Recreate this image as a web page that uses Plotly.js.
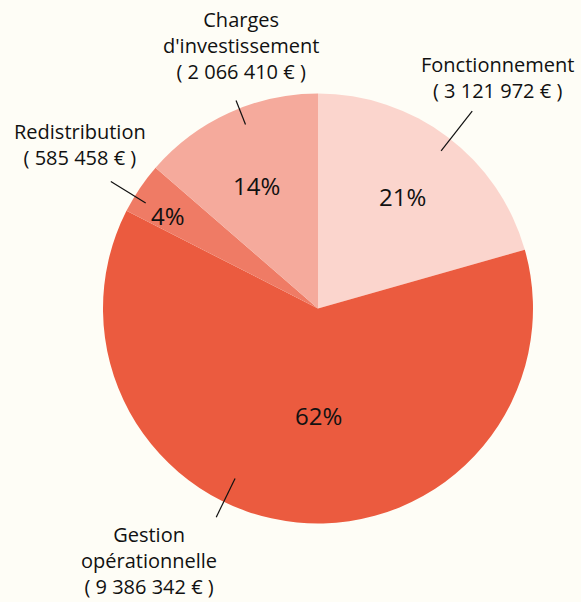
<!DOCTYPE html>
<html>
<head>
<meta charset="utf-8">
<script src="https://cdn.plot.ly/plotly-3.0.1.min.js"></script>
<style>html,body{margin:0;padding:0;background:#fefdf6;}</style>
</head>
<body>
<div id="chart" style="width:581px;height:602px;"></div>
<script>
// ---- data ----
const categories = ["Fonctionnement", "Gestion opérationnelle", "Redistribution", "Charges d'investissement"];
const labelLines = [["Fonctionnement"], ["Gestion", "opérationnelle"], ["Redistribution"], ["Charges", "d'investissement"]];
const amounts = [3121972, 9386342, 585458, 2066410];
const amountLabels = ["3 121 972 €", "9 386 342 €", "585 458 €", "2 066 410 €"];

// ---- style / placement ----
const colors = ["#fbd5cd", "#eb5b3f", "#ef7b65", "#f5aa9c"];
const W = 581, H = 602;
const cx = 318, cy = 308.5, R = 215;
const pctRadius = [0.65, 0.5, 0.82, 0.64];
const pctAngleShift = [0, -5.6, -2, -2];
const leaderAngle = [38, 206, 301.5, 338.5];
const leaderR = [[0.93, 1.165], [0.88, 1.08], [0.94, 1.13], [0.92, 1.04]];
const labelPos = [[497, 77], [149, 560], [80, 144], [241, 46]];
const fontFam = "'Open Sans', Lato, sans-serif";

const total = amounts.reduce((a, b) => a + b, 0);
const px = x => x / W, py = y => 1 - y / H;
const pt = (deg, r) => {
  const t = deg * Math.PI / 180;
  return [cx + r * R * Math.sin(t), cy - r * R * Math.cos(t)];
};

const annotations = [];
const shapes = [];
let cum = 0;
amounts.forEach((v, i) => {
  const start = cum / total * 360;
  cum += v;
  const end = cum / total * 360;
  const mid = (start + end) / 2 + pctAngleShift[i];
  const [x, y] = pt(mid, pctRadius[i]);
  annotations.push({
    x: px(x), y: py(y), xref: "paper", yref: "paper", showarrow: false,
    xanchor: "center", yanchor: "middle",
    text: Math.round(v / total * 100) + "%",
    font: {family: fontFam, size: 24, color: "#111"}
  });
  const lines = labelLines[i].concat(["( " + amountLabels[i] + " )"]);
  annotations.push({
    x: px(labelPos[i][0]), y: py(labelPos[i][1]), xref: "paper", yref: "paper", showarrow: false,
    xanchor: "center", yanchor: "middle",
    text: lines.join("<br>"), align: "center",
    font: {family: fontFam, size: 20, color: "#111"}
  });
  const [x0, y0] = pt(leaderAngle[i], leaderR[i][0]);
  const [x1, y1] = pt(leaderAngle[i], leaderR[i][1]);
  shapes.push({type: "line", xref: "paper", yref: "paper",
    x0: px(x0), y0: py(y0), x1: px(x1), y1: py(y1),
    line: {color: "#111", width: 1.2}});
});

const trace = {
  type: "pie",
  labels: categories,
  values: amounts,
  sort: false,
  direction: "clockwise",
  rotation: 0,
  textinfo: "none",
  hoverinfo: "label+value+percent",
  marker: {colors: colors, line: {width: 0}},
  domain: {x: [px(cx - R), px(cx + R)], y: [py(cy + R), py(cy - R)]},
  showlegend: false
};

const layout = {
  width: W, height: H,
  margin: {l: 0, r: 0, t: 0, b: 0},
  paper_bgcolor: "#fefdf6",
  plot_bgcolor: "#fefdf6",
  showlegend: false,
  annotations: annotations,
  shapes: shapes
};

Plotly.newPlot("chart", [trace], layout, {displayModeBar: false, staticPlot: true});
</script>
</body>
</html>
